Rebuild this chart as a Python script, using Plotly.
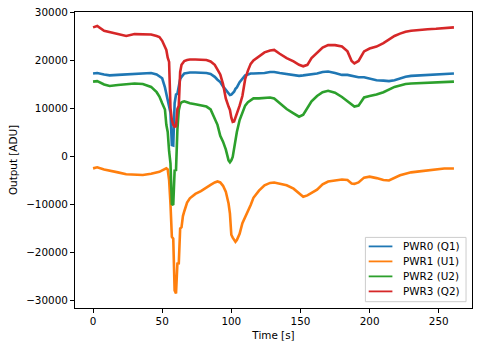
import plotly.graph_objects as go

time_s = [0, 3, 8, 12, 18, 24, 30, 36, 42, 46, 48, 50, 52, 53, 54, 55, 56, 57, 58, 59,
          60, 61, 62, 63, 64, 65, 66, 68, 70, 74, 78, 82, 85, 88, 90, 92, 94, 96, 98, 99,
          100, 101, 102, 103, 104, 106, 108, 110, 112, 114, 116, 120, 124, 128, 131, 135,
          140, 145, 149, 152, 155, 158, 162, 166, 170, 175, 180, 184, 187, 189, 192, 196,
          200, 205, 210, 214, 218, 222, 226, 230, 236, 242, 248, 254, 261]

pwr0 = [17200, 17300, 17000, 16800, 16900, 17000, 17100, 17200, 17300, 17000, 16600, 16200,
        14300, 13000, 11700, 10000, 9000, 2300, 2200, 11000, 12800, 13000, 14500, 16000,
        16500, 16900, 17200, 17300, 17400, 17400, 17400, 17300, 17100, 16500, 15900, 15400,
        14500, 13800, 12900, 12700, 12800, 13100, 13400, 14000, 14300, 15400, 16200, 16800,
        17000, 17200, 17200, 17200, 17300, 17500, 17500, 17300, 17100, 16900, 16700, 16800,
        16900, 17000, 17200, 17500, 17600, 17300, 16900, 16900, 16700, 16600, 16400, 16400,
        16100, 15800, 15700, 15600, 15800, 16200, 16500, 16700, 16800, 17000, 17100, 17200,
        17200]

pwr1 = [-2570, -2350, -2800, -3100, -3400, -3800, -3900, -3950, -3700, -3450, -3300, -3000,
        -2700, -2570, -2800, -5000, -10000, -16800, -17200, -28000, -28600, -22400, -22350,
        -15100, -14800, -12500, -11500, -9700, -8800, -7900, -7300, -6500, -6000, -5500,
        -5300, -5500, -6200, -7400, -9900, -12000, -16400, -17000, -17500, -17850, -17500,
        -16200, -14000, -12800, -11600, -10200, -8700, -7200, -6100, -5600, -5500, -5700,
        -6100, -6800, -7800, -8500, -8200, -7700, -7000, -5900, -5300, -5100, -4900, -5000,
        -5700, -5800, -5500, -4500, -4300, -4600, -5000, -5100, -4500, -4000, -3700, -3400,
        -3200, -3000, -2700, -2600, -2600]

pwr2 = [15500, 15600, 14900, 14600, 14800, 15000, 15100, 15000, 14400, 13300, 12400, 11000,
        9700, 6500, 5000, 1000, -1500, -10000, -10200, -3000, -2900, 5500, 9500, 10800,
        11200, 11300, 11400, 11200, 11000, 10800, 10600, 10300, 9700, 7800, 6500, 4200,
        3000, 1400, -900, -1300, -900, -200, 1500, 3500, 5000, 7500, 9200, 10500, 11200,
        11600, 12000, 12000, 12100, 12200, 12000, 11100, 9800, 8900, 8200, 8600, 10000,
        11400, 12500, 13300, 13600, 13200, 12300, 11400, 10700, 10300, 10500, 12200, 12500,
        12800, 13300, 13800, 14400, 14700, 15000, 15100, 15200, 15300, 15400, 15500, 15500]

pwr3 = [26800, 27100, 26100, 25800, 25300, 25000, 25400, 25400, 25300, 25000, 24800, 24000,
        22800, 22100, 20500, 19600, 10000, 7500, 6500, 6100, 6200, 9800, 10500, 17500, 19000,
        19500, 19800, 20000, 20100, 20100, 20000, 20000, 19700, 19000, 18000, 17000, 15000,
        12000, 10300, 9600, 8000, 7100, 7200, 8000, 8800, 10500, 12500, 16000, 17800, 19200,
        19900, 20800, 21600, 22000, 22100, 21300, 20400, 19700, 19000, 18700, 19000, 20400,
        21500, 22600, 23100, 23100, 22800, 21800, 19800, 19300, 19800, 21800, 22400, 22800,
        23500, 24200, 25000, 25500, 25900, 26100, 26300, 26400, 26500, 26700, 26800]

series_names = ["PWR0 (Q1)", "PWR1 (U1)", "PWR2 (U2)", "PWR3 (Q2)"]
series_colors = ["#1f77b4", "#ff7f0e", "#2ca02c", "#d62728"]

x_ticks = [0, 50, 100, 150, 200, 250]
y_ticks = [-30000, -20000, -10000, 0, 10000, 20000, 30000]
y_ticktext = [str(v).replace("-", "\u2212") for v in y_ticks]

FONT = "DejaVu Sans"
FS = 10.4

fig = go.Figure()
for name, vals, col in zip(series_names, [pwr0, pwr1, pwr2, pwr3], series_colors):
    fig.add_trace(go.Scatter(x=time_s, y=vals, mode="lines", name=name,
                             line=dict(color=col, width=2.6), showlegend=False))

axis_common = dict(showline=True, linecolor="black", linewidth=1, mirror=True,
                   ticks="outside", ticklen=4, tickwidth=1, tickcolor="black",
                   showgrid=False, zeroline=False, automargin=False,
                   tickfont=dict(family=FONT, size=FS, color="black"))

# manual legend (matplotlib-like layout), positioned in paper coordinates
leg_box = dict(x0=0.7315, x1=0.985, y0=0.0213, y1=0.2385)
leg_rows = [0.2081, 0.1574, 0.1068, 0.0561]
shapes = [dict(type="rect", xref="paper", yref="paper", layer="above",
               line=dict(color="#cccccc", width=1), fillcolor="rgba(255,255,255,0.8)",
               **leg_box)]
annotations = []
for name, col, yy in zip(series_names, series_colors, leg_rows):
    shapes.append(dict(type="line", xref="paper", yref="paper", layer="above",
                       x0=0.7398, x1=0.7995, y0=yy, y1=yy,
                       line=dict(color=col, width=1.8)))
    annotations.append(dict(xref="paper", yref="paper", x=0.8200, y=yy,
                            xanchor="left", yanchor="middle", showarrow=False,
                            text=name, font=dict(family=FONT, size=FS, color="black")))

fig.update_layout(
    width=483, height=348,
    margin=dict(l=75, r=11, t=12, b=40),
    paper_bgcolor="white", plot_bgcolor="white",
    font=dict(family=FONT, size=FS, color="black"),
    showlegend=False,
    xaxis=dict(range=[-13.05, 274.05], tickvals=x_ticks,
               title=dict(text="Time [s]", standoff=5,
                          font=dict(family=FONT, size=FS, color="black")),
               **axis_common),
    yaxis=dict(range=[-31650, 30000], tickvals=y_ticks, ticktext=y_ticktext,
               title=dict(text="Output [ADU]", standoff=6,
                          font=dict(family=FONT, size=FS, color="black")),
               **axis_common),
    shapes=shapes,
    annotations=annotations,
)

fig.write_html("out.html")
